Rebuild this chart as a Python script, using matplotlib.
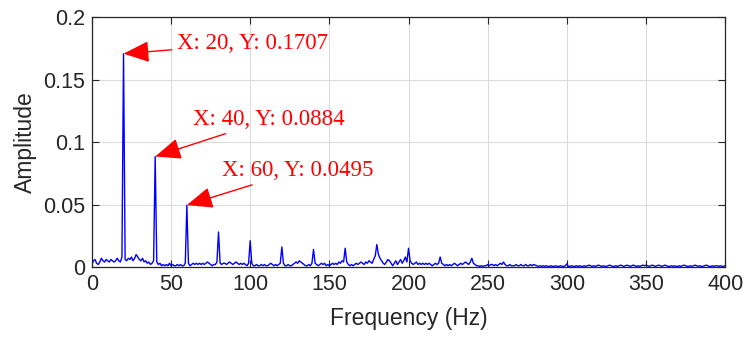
import matplotlib.pyplot as plt
from matplotlib.ticker import FormatStrFormatter
import numpy as np

# amplitude spectrum, 1 Hz steps, in units of 1e-3
amp_0_49 = [2, 5, 6, 3, 2, 4, 7, 5, 4, 6, 5, 4, 6, 5, 4, 5, 7, 5, 4, 8,
            170.7, 6, 5, 7, 6, 8, 5, 7, 10, 8, 6, 5, 7, 4, 5, 3, 4, 2, 3, 5,
            88.4, 4, 2, 3, 1, 2, 1, 2, 1, 3]
amp_50_99 = [1, 2, 1, 1, 2, 1, 2, 1, 1, 3, 49.5, 3, 1, 2, 3, 2, 3, 2, 3, 2,
             3, 2, 3, 4, 3, 2, 1, 2, 2, 4, 28, 3, 2, 3, 3, 2, 3, 4, 3, 2,
             3, 4, 3, 2, 3, 2, 3, 2, 1, 3]
amp_100_149 = [21, 3, 1, 1, 2, 1, 1, 2, 1, 2, 1, 1, 2, 3, 2, 1, 2, 1, 2, 3,
               16, 3, 1, 1, 2, 1, 1, 2, 3, 4, 3, 5, 4, 3, 2, 1, 1, 2, 1, 3,
               14, 3, 2, 1, 2, 3, 2, 3, 1, 2]
amp_150_199 = [1, 2, 3, 2, 3, 2, 4, 3, 5, 4, 15, 4, 2, 1, 2, 1, 2, 3, 2, 3,
               4, 3, 2, 4, 3, 5, 4, 3, 6, 9, 18, 10, 7, 5, 3, 2, 4, 6, 5, 3,
               1, 3, 5, 2, 4, 6, 3, 5, 8, 4]
amp_200_249 = [15, 5, 3, 2, 3, 4, 2, 3, 2, 3, 2, 3, 2, 3, 2, 1, 2, 3, 2, 3,
               8, 3, 2, 1, 2, 1, 2, 1, 2, 3, 2, 1, 2, 3, 2, 3, 4, 3, 2, 4,
               7, 3, 2, 1, 1, 0.5, 1, 0.5, 1, 1]
amp_250_299 = [2, 1, 2, 2, 1, 2, 1, 2, 3, 2, 4, 2, 1, 1, 2, 1, 1, 1, 2, 1,
               1, 2, 1, 1, 2, 1, 1, 2, 1, 2, 1.5, 1, 0.5, 1, 0.5, 1, 0.5, 1, 0.5, 0.5,
               1, 0.5, 0.5, 1, 0.5, 0.5, 1, 0.5, 0.5, 1]
amp_300_349 = [2.5, 0.5, 0.5, 1, 0.5, 0.5, 1, 0.5, 1, 0.5, 0.5, 1, 0.5, 1, 1.5, 1, 0.5, 1, 0.5, 1,
               1.5, 1, 0.5, 1, 0.5, 0.5, 1, 1.5, 1, 0.5, 0.5, 1, 0.5, 1, 1.5, 1, 0.5, 1, 1.5, 1,
               0.5, 1, 1.5, 1, 0.5, 1, 0.5, 1, 1.5, 1]
amp_350_400 = [1.5, 1, 0.5, 1, 1.5, 1, 0.5, 1, 1.5, 1, 0.5, 1, 1.5, 1, 0.5, 0.5, 1, 0.5, 1, 0.5,
               0.5, 1, 0.5, 1, 1.5, 1, 0.5, 0.5, 1, 0.5, 1, 1.5, 1, 0.5, 1, 0.5, 0.5, 1, 1.5, 1,
               0.5, 0.5, 1, 0.5, 1, 1, 0.5, 1, 0.5, 0.5, 1]

amp = np.array(amp_0_49 + amp_50_99 + amp_100_149 + amp_150_199 + amp_200_249
               + amp_250_299 + amp_300_349 + amp_350_400) / 1000.0
freq = np.arange(len(amp))

x_ticks = [0, 50, 100, 150, 200, 250, 300, 350, 400]
y_ticks = [0, 0.05, 0.1, 0.15, 0.2]

# data tips: (peak x, peak y, text x, text y)
tips = [(20, 0.1707, 54, 0.179),
        (40, 0.0884, 64, 0.118),
        (60, 0.0495, 82, 0.077)]

plt.rcParams['font.family'] = ['Liberation Sans', 'DejaVu Sans']
axis_col = '#262626'

fig = plt.figure(figsize=(7.53, 3.41), dpi=100)
ax = fig.add_axes([0.122, 0.217, 0.841, 0.733])
ax.plot(freq, amp, color='#0000FF', lw=1)

ax.set_xlim(0, 400)
ax.set_ylim(0, 0.2)
ax.set_xticks(x_ticks)
ax.set_yticks(y_ticks)
ax.yaxis.set_major_formatter(FormatStrFormatter('%g'))
ax.grid(True, color='#dcdcdc', lw=0.8)
ax.tick_params(direction='in', top=True, right=True, length=5, colors=axis_col,
               labelsize=15.5, labelcolor=axis_col, pad=5)
for sp in ax.spines.values():
    sp.set_color(axis_col)
    sp.set_linewidth(0.9)
ax.set_xlabel('Frequency (Hz)', fontsize=16.5, color=axis_col, labelpad=9)
ax.set_ylabel('Amplitude', fontsize=16.5, color=axis_col, labelpad=4)

for px, py, tx, ty in tips:
    ax.annotate(f'X: {px}, Y: {py:.4f}', xy=(px, py), xytext=(tx, ty),
                color='red', fontsize=16.5, family='Liberation Serif', va='center',
                arrowprops=dict(arrowstyle='-|>,head_length=0.8,head_width=0.33',
                                color='red', lw=1, mutation_scale=20,
                                shrinkA=2, shrinkB=0))

fig.savefig('out.png', dpi=100)
